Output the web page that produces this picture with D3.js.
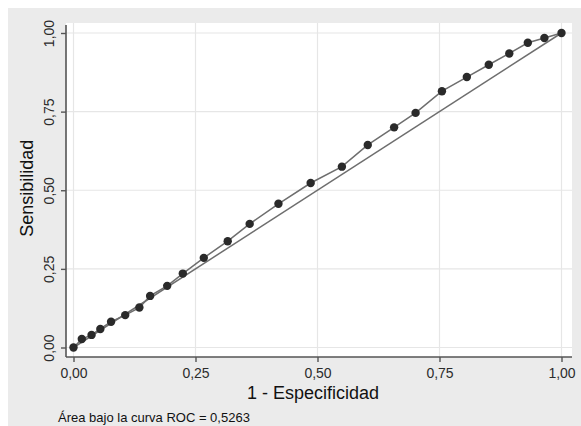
<!DOCTYPE html>
<html>
<head>
<meta charset="utf-8">
<script src="https://cdn.jsdelivr.net/npm/d3@7"></script>
<style>
  body { margin: 0; background: #fff; }
  text { font-family: Arial, "Liberation Sans", sans-serif; }
</style>
</head>
<body>
<div id="graph"></div>
<script>
var width = 581, height = 426

// 1 - especificidad, sensibilidad
var fpr = [0, 0.017, 0.037, 0.055, 0.077, 0.106, 0.135, 0.157, 0.192, 0.224, 0.267,
  0.316, 0.361, 0.420, 0.486, 0.550, 0.603, 0.657, 0.701, 0.755, 0.806, 0.851,
  0.893, 0.931, 0.965, 1]
var tpr = [0, 0.027, 0.040, 0.059, 0.082, 0.103, 0.127, 0.164, 0.196, 0.235, 0.285,
  0.338, 0.393, 0.457, 0.523, 0.575, 0.644, 0.700, 0.746, 0.815, 0.860, 0.899,
  0.935, 0.969, 0.984, 1]
var ticks = [0, 0.25, 0.5, 0.75, 1]
var tickLabels = ['0,00', '0,25', '0,50', '0,75', '1,00']
var xTitle = '1 - Especificidad'
var yTitle = 'Sensibilidad'
var note = 'Área bajo la curva ROC = 0,5263'

var points = fpr.map(function(d, i){ return [d, tpr[i]] })

var x = d3.scaleLinear().domain([0, 1]).range([73.5, 561.5])
var y = d3.scaleLinear().domain([0, 1]).range([347.5, 33])

var svg = d3.select('#graph').append('svg')
    .attr('width', width).attr('height', height)

// graph region + plot region
svg.append('rect').attr('x', 8).attr('y', 8).attr('width', width - 8).attr('height', height - 8)
    .attr('fill', '#ebebeb')
svg.append('rect').attr('x', 66).attr('y', 23).attr('width', 506).attr('height', 334)
    .attr('fill', '#fff')

// grid
var grid = svg.append('g').attr('stroke', '#e6e6e6').attr('stroke-width', 1.2)
grid.selectAll('line.gx').data(ticks).enter().append('line')
    .attr('x1', x).attr('x2', x).attr('y1', 23).attr('y2', 357)
grid.selectAll('line.gy').data(ticks).enter().append('line')
    .attr('y1', y).attr('y2', y).attr('x1', 66).attr('x2', 572)

// axes
var xAxis = svg.append('g').attr('transform', 'translate(0,357)')
    .call(d3.axisBottom(x).tickValues(ticks).tickSize(5).tickFormat(function(d, i){ return tickLabels[i] }))
xAxis.select('.domain').attr('d', 'M66,0H572')
var yAxis = svg.append('g').attr('transform', 'translate(66,0)')
    .call(d3.axisLeft(y).tickValues(ticks).tickSize(5).tickFormat(function(d, i){ return tickLabels[i] }))
yAxis.select('.domain').attr('d', 'M0,25V357')

svg.selectAll('.domain').attr('stroke', '#555').attr('stroke-width', 1.6)
svg.selectAll('.tick line').attr('stroke', '#555').attr('stroke-width', 1.4)
svg.selectAll('.tick text').attr('fill', '#2b2b2b').attr('font-size', 14)
    .attr('font-family', 'Arial, "Liberation Sans", sans-serif')
xAxis.selectAll('.tick text').attr('dy', null).attr('y', 21)
yAxis.selectAll('.tick text')
    .attr('x', null).attr('dy', null).attr('text-anchor', 'middle')
    .attr('transform', 'translate(-12,0) rotate(-90)')

// diagonal reference + roc curve
var line = d3.line().x(function(d){ return x(d[0]) }).y(function(d){ return y(d[1]) })
svg.append('path').datum([[0, 0], [1, 1]]).attr('d', line)
    .attr('fill', 'none').attr('stroke', '#6e6e6e').attr('stroke-width', 1.5)
svg.append('path').datum(points).attr('d', line)
    .attr('fill', 'none').attr('stroke', '#6e6e6e').attr('stroke-width', 1.5)
svg.append('g').selectAll('circle').data(points).enter().append('circle')
    .attr('cx', function(d){ return x(d[0]) })
    .attr('cy', function(d){ return y(d[1]) })
    .attr('r', 4.2)
    .attr('fill', '#2a2a2a')

// titles
svg.append('text').text(xTitle)
    .attr('x', 313).attr('y', 399).attr('text-anchor', 'middle')
    .attr('font-size', 18).attr('fill', '#111')
svg.append('text').text(yTitle)
    .attr('transform', 'translate(33,' + (y(0.5) - 2) + ') rotate(-90)')
    .attr('text-anchor', 'middle').attr('font-size', 18).attr('fill', '#111')
svg.append('text').text(note)
    .attr('x', 58).attr('y', 422).attr('font-size', 13).attr('fill', '#111')
</script>
</body>
</html>
